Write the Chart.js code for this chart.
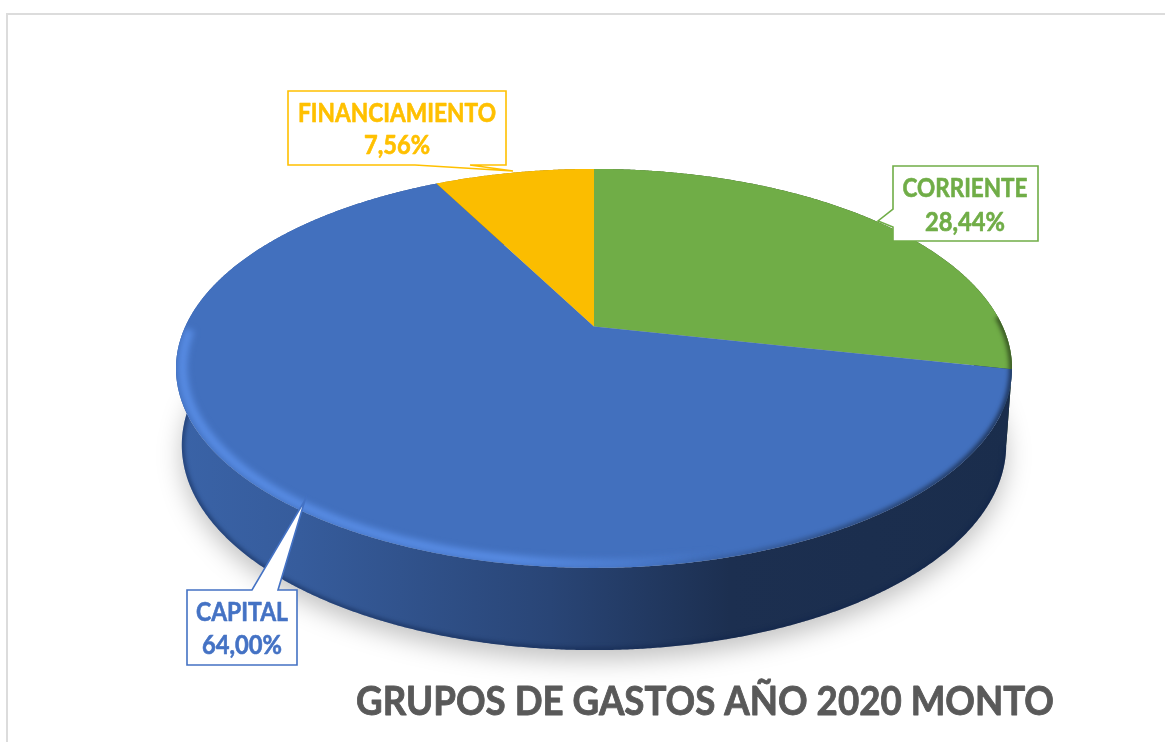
<!DOCTYPE html>
<html>
<head>
<meta charset="utf-8">
<title>Grupos de gastos</title>
<style>html,body{margin:0;padding:0;background:#fff}canvas{display:block}</style>
<script src="https://cdn.jsdelivr.net/npm/chart.js@4"></script>
</head>
<body>
<canvas id="c" width="1165" height="742"></canvas>
<script>
const categories = ['CORRIENTE', 'CAPITAL', 'FINANCIAMIENTO'];
const values = [28.44, 64.00, 7.56];
const chartTitle = 'GRUPOS DE GASTOS AÑO 2020 MONTO';

const sliceColors = ['#70AD47', '#4270BE', '#FBBD00'];
const labelColors = ['#70AD47', '#4472C4', '#FFC000'];

// perspective projection of the flat pie disc
const persp = -0.21;
const topDisc = {cx: 594, cy: 326.5, rx: 408.7, ry: 190.7};
const baseDisc = {cx: 594, cy: 402, rx: 403, ry: 196};
// callout geometry per category
const callouts = [
  {outline: [[893,166],[1038,166],[1038,241],[893,241],[893,227],[878,221],[893,209]], textX: 965, base: [197, 231]},
  {outline: [[187,590],[252,590],[305,500],[278,590],[297,590],[297,665],[187,665]], textX: 242, base: [621, 654]},
  {outline: [[288,91],[506,91],[506,165],[470,165],[513,171],[415,165],[288,165]], textX: 397, base: [122, 154]}
];
const calloutFontPx = 26;
const calloutMaxWidth = [125, 92, 198];
const valueMaxWidth = [80, 80, 66];
const sideStops = [[176,.88],[300,.82],[400,.74],[550,.62],[730,.42],[1012,.40]];

function pt(d, a, k) {
  k = k === undefined ? 1 : k;
  const u = Math.cos(a) * k, v = Math.sin(a) * k, w = 1 + persp * v;
  return [d.cx + d.rx * u / w, d.cy + d.ry * v / w];
}
function trace(ctx, d, a0, a1, k, move) {
  const n = Math.max(2, Math.ceil(Math.abs(a1 - a0) / 0.005));
  for (let i = 0; i <= n; i++) {
    const p = pt(d, a0 + (a1 - a0) * i / n, k);
    if (i === 0 && move) ctx.moveTo(p[0], p[1]); else ctx.lineTo(p[0], p[1]);
  }
}
function sliceTopPath(ctx, arc) {
  ctx.beginPath();
  ctx.moveTo(topDisc.cx, topDisc.cy);
  trace(ctx, topDisc, arc.startAngle, arc.endAngle, 1, false);
  ctx.closePath();
}
function rgb(hex) { return [1, 3, 5].map(i => parseInt(hex.substr(i, 2), 16)); }
function sideGradient(ctx, hex) {
  const g = ctx.createLinearGradient(176, 0, 1012, 0), c = rgb(hex);
  sideStops.forEach(s => g.addColorStop((s[0] - 176) / 836,
    'rgb(' + c.map(x => Math.round(x * s[1])).join(',') + ')'));
  return g;
}
function boldText(ctx, text, x, y, maxW, thick) {
  ctx.lineWidth = thick;
  ctx.lineJoin = 'round';
  ctx.strokeStyle = ctx.fillStyle;
  ctx.strokeText(text, x, y, maxW);
  ctx.fillText(text, x, y, maxW);
}

const framePlugin = {
  id: 'frame',
  beforeDraw(chart) {
    const ctx = chart.ctx;
    ctx.save();
    ctx.fillStyle = '#fff';
    ctx.fillRect(0, 0, 1165, 742);
    ctx.fillStyle = '#dcdcdc';
    ctx.fillRect(6, 13, 1159, 2);
    ctx.fillRect(6, 13, 2, 729);
    ctx.restore();
  }
};

const pie3d = {
  id: 'pie3d',
  beforeDatasetsDraw(chart) {
    const ctx = chart.ctx, arcs = chart.getDatasetMeta(0).data;
    ctx.save();
    // soft ground shadow
    ctx.save();
    ctx.filter = 'blur(12px)';
    ctx.fillStyle = 'rgba(0,0,0,0.24)';
    ctx.translate(0, 10);
    ctx.beginPath();
    trace(ctx, baseDisc, 0, Math.PI * 2, 1, true);
    ctx.closePath();
    ctx.fill();
    ctx.restore();

    // extruded sides
    arcs.forEach((arc, i) => {
      const a = arc.startAngle, b = arc.endAngle;
      ctx.save();
      ctx.beginPath();
      trace(ctx, topDisc, a, b, 1, true);
      trace(ctx, baseDisc, b, a, 1, false);
      ctx.closePath();
      ctx.fillStyle = sideGradient(ctx, sliceColors[i]);
      ctx.fill();
      ctx.clip();
      ctx.filter = 'blur(2px)';
      ctx.beginPath();
      trace(ctx, baseDisc, a, b, 1, true);
      ctx.lineWidth = 5;
      ctx.strokeStyle = 'rgba(15,35,75,0.55)';
      ctx.stroke();
      ctx.restore();
    });

    // top faces with bevel
    arcs.forEach((arc, i) => {
      ctx.save();
      sliceTopPath(ctx, arc);
      ctx.fillStyle = sliceColors[i];
      ctx.fill();
      ctx.clip();
      // light rim on the front-left
      const light = ctx.createLinearGradient(176, 0, 720, 0);
      light.addColorStop(0, 'rgba(88,140,228,1)');
      light.addColorStop(0.62, 'rgba(88,140,228,1)');
      light.addColorStop(1, 'rgba(88,140,228,0)');
      ctx.filter = 'blur(3px)';
      ctx.beginPath();
      trace(ctx, topDisc, 70 * Math.PI / 180, 179 * Math.PI / 180, 0.985, true);
      ctx.lineWidth = 9;
      ctx.strokeStyle = light;
      ctx.stroke();
      // dark rim on the right, a darker shade of the slice colour
      const d = rgb(sliceColors[i]).map(x => Math.round(x * 0.4)).join(',');
      const dark = ctx.createLinearGradient(640, 0, 980, 0);
      dark.addColorStop(0, 'rgba(' + d + ',0)');
      dark.addColorStop(1, 'rgba(' + d + ',0.85)');
      ctx.filter = 'blur(2px)';
      ctx.beginPath();
      trace(ctx, topDisc, -3 * Math.PI / 180, 95 * Math.PI / 180, 1.0, true);
      ctx.lineWidth = 6;
      ctx.strokeStyle = dark;
      ctx.stroke();
      ctx.restore();
    });
    ctx.restore();
    return false;
  },
  afterDraw(chart) {
    const ctx = chart.ctx;
    ctx.save();
    ctx.textAlign = 'center';
    ctx.textBaseline = 'alphabetic';
    categories.forEach((name, i) => {
      const c = callouts[i];
      ctx.beginPath();
      c.outline.forEach((p, j) => j ? ctx.lineTo(p[0], p[1]) : ctx.moveTo(p[0], p[1]));
      ctx.closePath();
      ctx.fillStyle = '#fff';
      ctx.fill();
      ctx.lineWidth = 1.6;
      ctx.lineJoin = 'miter';
      ctx.strokeStyle = labelColors[i];
      ctx.stroke();
      ctx.fillStyle = labelColors[i];
      ctx.font = 'bold ' + calloutFontPx + 'px Lato';
      boldText(ctx, name, c.textX, c.base[0], calloutMaxWidth[i], 0.6);
      boldText(ctx, values[i].toFixed(2).replace('.', ',') + '%', c.textX, c.base[1], valueMaxWidth[i], 0.6);
    });
    ctx.fillStyle = '#595959';
    ctx.font = 'bold 41px Lato';
    boldText(ctx, chartTitle, 705, 715, 698, 0.9);
    ctx.restore();
  }
};

new Chart(document.getElementById('c'), {
  type: 'pie',
  data: {
    labels: categories,
    datasets: [{data: values, backgroundColor: sliceColors, borderWidth: 0}]
  },
  options: {
    responsive: false,
    animation: false,
    layout: {padding: {left: 176, right: 153, top: 168, bottom: 92}},
    plugins: {
      legend: {display: false},
      tooltip: {enabled: false},
      title: {display: false}
    }
  },
  plugins: [framePlugin, pie3d]
});
</script>
</body>
</html>
